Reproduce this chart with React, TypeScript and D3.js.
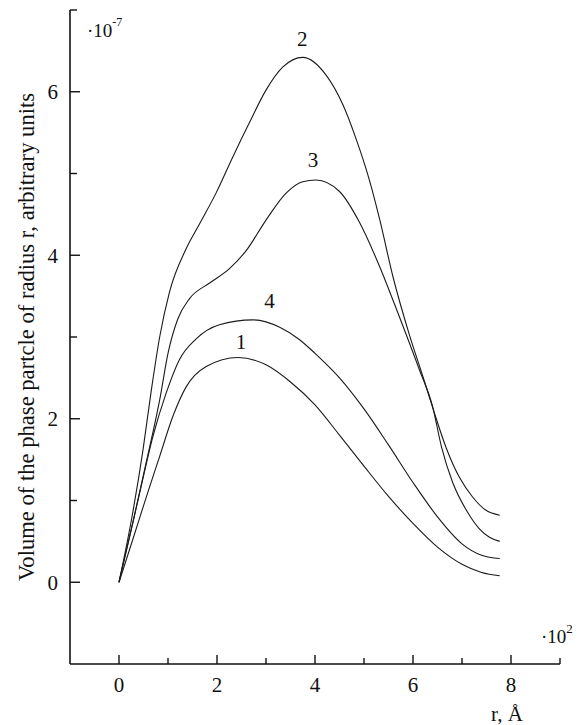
import React from "react";
import * as d3 from "d3";

// x in units of 10^2 Å, y in units of 10^-7
const c1x = [0, 0.28, 0.55, 0.83, 1.10, 1.37, 1.78, 2.43, 3.0, 3.5, 4.0, 4.5, 5.0, 5.5, 6.0, 6.5, 7.0, 7.4, 7.77];
const c1y = [0, 0.52, 1.03, 1.54, 2.03, 2.39, 2.64, 2.75, 2.66, 2.45, 2.17, 1.80, 1.42, 1.05, 0.72, 0.43, 0.22, 0.12, 0.08];

const c2x = [0, 0.28, 0.49, 0.66, 0.83, 1.03, 1.37, 1.64, 1.98, 2.32, 2.66, 3.0, 3.34, 3.75, 4.23, 4.57, 4.84, 5.11, 5.32, 5.59, 5.93, 6.20, 6.40, 6.68, 6.95, 7.22, 7.49, 7.77];
const c2y = [0, 0.85, 1.62, 2.35, 3.0, 3.55, 4.08, 4.38, 4.76, 5.20, 5.62, 6.02, 6.30, 6.42, 6.20, 5.84, 5.42, 4.92, 4.44, 3.74, 3.02, 2.52, 2.14, 1.64, 1.28, 1.04, 0.88, 0.82];

const c3x = [0, 0.28, 0.55, 0.83, 1.0, 1.2, 1.44, 1.85, 2.26, 2.60, 3.0, 3.41, 3.75, 4.02, 4.50, 4.91, 5.32, 5.72, 6.13, 6.40, 6.58, 6.81, 7.09, 7.36, 7.56, 7.77];
const c3y = [0, 0.72, 1.45, 2.23, 2.80, 3.22, 3.47, 3.66, 3.84, 4.06, 4.43, 4.76, 4.90, 4.92, 4.78, 4.40, 3.86, 3.25, 2.60, 2.15, 1.66, 1.22, 0.88, 0.65, 0.55, 0.50];

const c4x = [0, 0.42, 0.69, 0.96, 1.23, 1.58, 2.05, 2.73, 3.28, 3.68, 4.0, 4.5, 5.0, 5.5, 6.0, 6.5, 7.0, 7.4, 7.77];
const c4y = [0, 1.09, 1.78, 2.31, 2.72, 2.98, 3.15, 3.21, 3.12, 2.97, 2.80, 2.50, 2.12, 1.68, 1.22, 0.80, 0.47, 0.33, 0.29];

const curveNames = ["1", "2", "3", "4"];
// label anchor points (data coords) for each curve
const labelX = [2.49, 3.74, 3.96, 3.07];
const labelY = [2.85, 6.56, 5.08, 3.35];

const xMajor = [0, 2, 4, 6, 8];
const xMinor = [1, 3, 5, 7, 9];
const yMajor = [0, 2, 4, 6];
const yMinor = [1, 3, 5, 7];

const yTitle = "Volume of the phase partcle of radius r, arbitrary units";

export default function App() {
  const W = 581, H = 725;
  const x = d3.scaleLinear().domain([-1, 9]).range([70, 560]);
  const y = d3.scaleLinear().domain([-1, 7]).range([664, 10]);
  const line = d3
    .line<[number, number]>()
    .x((d) => x(d[0]))
    .y((d) => y(d[1]))
    .curve(d3.curveMonotoneX);

  const series = [
    [c1x, c1y],
    [c2x, c2y],
    [c3x, c3y],
    [c4x, c4y],
  ].map(([xs, ys]) => xs.map((v, i) => [v, ys[i]] as [number, number]));

  const fontStyle = { fontFamily: "Liberation Serif, serif" };
  const x0 = x(-1);
  const y0 = y(-1);

  return (
    <svg
      width={W}
      height={H}
      style={{ position: "absolute", left: 0, top: 0, background: "#fff", ...fontStyle }}
    >
      <rect x={0} y={0} width={W} height={H} fill="#fff" />
      {series.map((s, i) => (
        <path key={i} d={line(s) || ""} fill="none" stroke="#1a1a1a" strokeWidth={1.1} />
      ))}
      {curveNames.map((n, i) => (
        <text key={n} x={x(labelX[i])} y={y(labelY[i])} fontSize={21} textAnchor="middle" fill="#111" style={fontStyle}>
          {n}
        </text>
      ))}
      <line x1={x0} y1={y(7)} x2={x0} y2={y0} stroke="#111" strokeWidth={1.6} />
      <line x1={x0} y1={y0} x2={x(9)} y2={y0} stroke="#111" strokeWidth={1.6} />
      {yMajor.map((v) => (
        <g key={"ym" + v}>
          <line x1={x0} x2={x0 + 10} y1={y(v)} y2={y(v)} stroke="#111" strokeWidth={1.4} />
          <text x={58} y={y(v)} dy="0.35em" fontSize={21} textAnchor="end" fill="#111" style={fontStyle}>
            {v}
          </text>
        </g>
      ))}
      {yMinor.map((v) => (
        <line key={"yn" + v} x1={x0} x2={x0 + 7} y1={y(v)} y2={y(v)} stroke="#111" strokeWidth={1.4} />
      ))}
      {xMajor.map((v) => (
        <g key={"xm" + v}>
          <line x1={x(v)} x2={x(v)} y1={y0} y2={y0 - 9} stroke="#111" strokeWidth={1.4} />
          <text x={x(v)} y={692} fontSize={21} textAnchor="middle" fill="#111" style={fontStyle}>
            {v}
          </text>
        </g>
      ))}
      {xMinor.map((v) => (
        <line key={"xn" + v} x1={x(v)} x2={x(v)} y1={y0} y2={y0 - 6} stroke="#111" strokeWidth={1.4} />
      ))}
      <text x={87} y={37} fontSize={19} fill="#111" style={fontStyle}>
        ·10
        <tspan fontSize={12} dy={-11}>-7</tspan>
      </text>
      <text x={541} y={643} fontSize={19} fill="#111" style={fontStyle}>
        ·10
        <tspan fontSize={13} dy={-10}>2</tspan>
      </text>
      <text x={507} y={721} fontSize={21} textAnchor="middle" fill="#111" style={fontStyle}>
        r, Å
      </text>
      <text
        transform={`translate(34, 337) rotate(-90)`}
        fontSize={22.6}
        textAnchor="middle"
        fill="#111"
        style={fontStyle}
      >
        {yTitle}
      </text>
    </svg>
  );
}
